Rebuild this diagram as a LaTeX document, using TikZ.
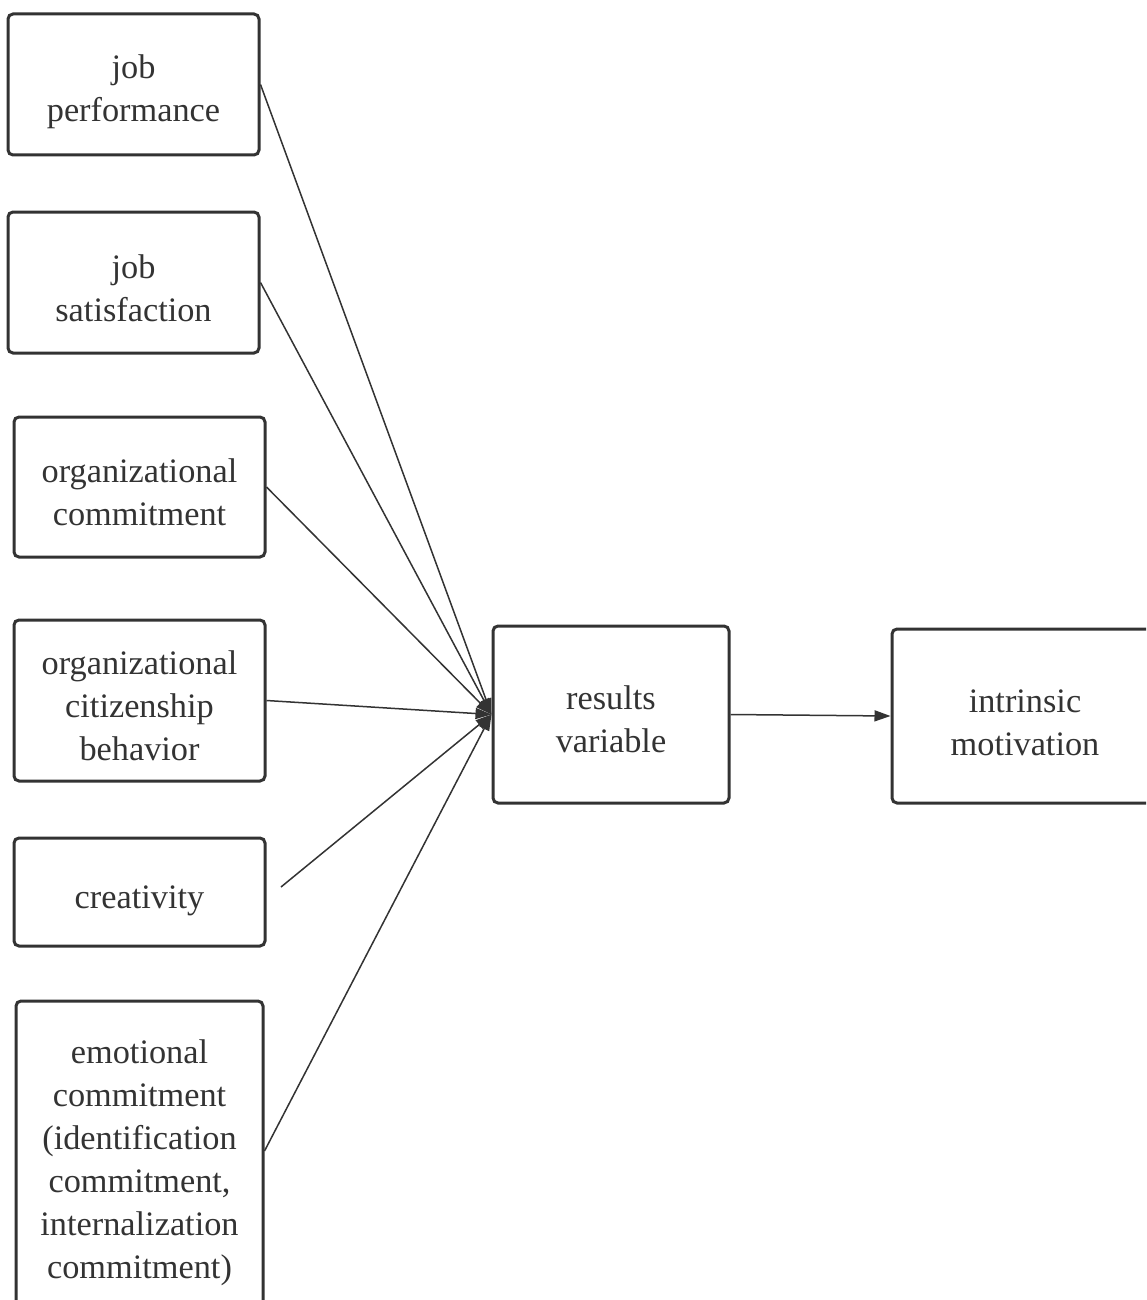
\documentclass[tikz,border=0pt]{standalone}
\usepackage{fontspec}
\setmainfont{Liberation Serif}
\usetikzlibrary{arrows.meta}
\definecolor{ink}{HTML}{333333}
\begin{document}
\begin{tikzpicture}[x=1pt,y=-1pt,
  box/.style={draw=ink, line width=3pt, rounded corners=5pt, rectangle, inner sep=0pt},
  txt/.style={align=center, text=ink, inner sep=0pt,
    font=\fontsize{34.3}{43}\selectfont},
  link/.style={draw=ink, line width=1.5pt, -{Triangle[length=16pt,width=11pt]}}]
  \clip (0,0) rectangle (1146,1300);
  \fill[white] (0,0) rectangle (1146,1300);

  % factors on the left
  \node[box, minimum width=251pt, minimum height=141pt,
    label={[txt, yshift=-7pt]center:{job\\performance}}] (jp) at (133.5,84.5) {};
  \node[box, minimum width=251pt, minimum height=141pt,
    label={[txt, yshift=-6pt]center:{job\\satisfaction}}] (js) at (133.5,282.5) {};
  \node[box, minimum width=251pt, minimum height=140pt,
    label={[txt, yshift=-5pt]center:{organizational\\commitment}}] (oc) at (139.5,487) {};
  \node[box, minimum width=251pt, minimum height=161pt,
    label={[txt, yshift=-5pt]center:{organizational\\citizenship\\behavior}}] (ocb) at (139.5,700.5) {};
  \node[box, minimum width=251pt, minimum height=108pt,
    label={[txt, yshift=-9pt]center:{creativity}}] (cr) at (139.5,892) {};
  \node[box, minimum width=247pt, minimum height=320pt,
    label={[txt, yshift=-2pt]center:{emotional\\commitment\\(identification\\commitment,\\internalization\\commitment)}}] (ec) at (139.5,1161) {};

  % central and outcome boxes
  \node[box, minimum width=236pt, minimum height=177pt,
    label={[txt, yshift=-5pt]center:{results\\variable}}] (rv) at (611,714.5) {};
  \node[box, minimum width=266pt, minimum height=174pt,
    label={[txt, yshift=-7pt]center:{intrinsic\\motivation}}] (im) at (1025,716) {};

  % free end of the creativity connector
  \coordinate (crend) at (281,887);

  \draw[link] (jp.east) -- (rv.west);
  \draw[link] (js.east) -- (rv.west);
  \draw[link] (oc.east) -- (rv.west);
  \draw[link] (ocb.east) -- (rv.west);
  \draw[link] (crend) -- (rv.west);
  \draw[link] ([yshift=10pt]ec.east) -- (rv.west);
  \draw[link] (rv.east) -- (im.west);
\end{tikzpicture}
\end{document}
